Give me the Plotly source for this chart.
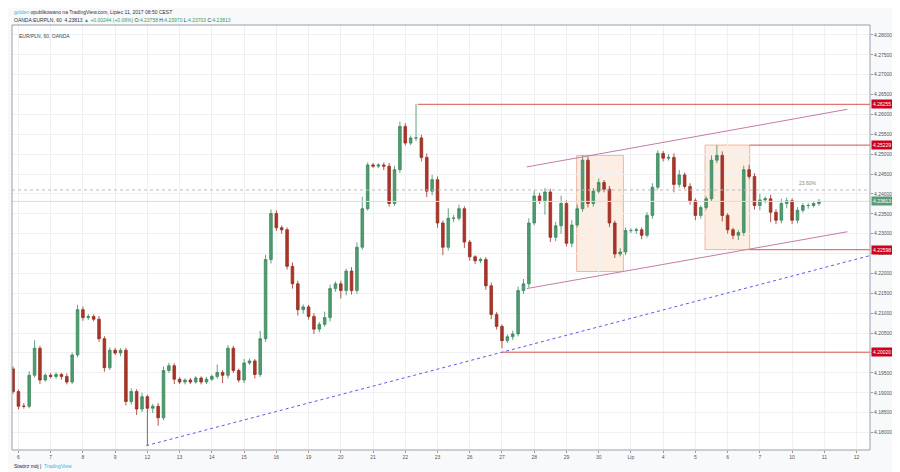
import plotly.graph_objects as go

# 4-hour bars, EUR/PLN (first bar is the tail of Jun 5)
closes = [
    4.1903,
    4.1866, 4.1866, 4.1944, 4.2012, 4.1932, 4.1944, 4.1941, 4.1946, 4.1941, 4.1927,
    4.1995, 4.2109, 4.2089, 4.2092, 4.2085, 4.2036, 4.1963, 4.2007, 4.2000, 4.2007,
    4.1878, 4.1903, 4.1859, 4.1890, 4.1861, 4.1866, 4.1837, 4.1956, 4.1968, 4.1934,
    4.1927, 4.1932, 4.1927, 4.1937, 4.1927, 4.1934, 4.1941, 4.1951, 4.1944, 4.2012,
    4.1956, 4.1932, 4.1975, 4.1980, 4.1946, 4.2036, 4.2235, 4.2351, 4.2315, 4.2310,
    4.2218, 4.2174, 4.2109, 4.2116, 4.2092, 4.2060, 4.2072, 4.2089, 4.2162, 4.2174,
    4.2157, 4.2206, 4.2157, 4.2266, 4.2363, 4.2473, 4.2470, 4.2473, 4.2470, 4.2376,
    4.2461, 4.2570, 4.2528, 4.2541, 4.2541, 4.2492, 4.2407, 4.2436, 4.2327, 4.2266,
    4.2339, 4.2339, 4.2363, 4.2279, 4.2242, 4.2232, 4.2235, 4.2169, 4.2097, 4.2067,
    4.2031, 4.2041, 4.2048, 4.2157, 4.2174, 4.2327, 4.2395, 4.2383, 4.2405, 4.2291,
    4.2320, 4.2376, 4.2276, 4.2322, 4.2363, 4.2485, 4.2376, 4.2407, 4.2429, 4.2412,
    4.2327, 4.2249, 4.2254, 4.2308, 4.2308, 4.2310, 4.2296, 4.2346, 4.2417, 4.2502,
    4.2490, 4.2492, 4.2424, 4.2448, 4.2419, 4.2383, 4.2346, 4.2366, 4.2388, 4.2485,
    4.2497, 4.2346, 4.2310, 4.2296, 4.2303, 4.2461, 4.2444, 4.2371, 4.2385, 4.2388,
    4.2354, 4.2334, 4.2376, 4.2383, 4.2334, 4.2359, 4.2371, 4.2371, 4.2376, 4.23813,
]
first_open = 4.1960

# wick lengths in pips beyond the body
wick_hi = [
    6,
    5, 8, 10, 20, 6, 5, 6, 5, 4, 8,
    6, 12, 8, 6, 5, 8, 6, 7, 6, 5,
    6, 8, 6, 10, 5, 6, 8, 10, 7, 6,
    5, 4, 5, 5, 4, 6, 5, 20, 6, 8,
    6, 5, 10, 6, 5, 20, 12, 10, 8, 6,
    6, 10, 8, 6, 5, 8, 6, 15, 10, 6,
    8, 6, 10, 12, 30, 6, 5, 4, 6, 8,
    10, 12, 8, 6, 85, 8, 10, 12, 8, 6,
    25, 8, 10, 6, 5, 4, 5, 6, 8, 6,
    5, 6, 8, 10, 12, 12, 14, 8, 10, 8,
    10, 20, 8, 12, 10, 12, 10, 8, 10, 6,
    8, 6, 10, 8, 6, 5, 6, 8, 10, 8,
    6, 8, 10, 12, 6, 8, 6, 5, 6, 12,
    26, 10, 6, 5, 6, 10, 12, 8, 15, 6,
    10, 8, 12, 8, 6, 8, 6, 6, 5, 6,
]
wick_lo = [
    6,
    8, 6, 5, 6, 10, 4, 5, 6, 8, 6,
    5, 6, 8, 6, 5, 8, 10, 6, 5, 8,
    10, 8, 15, 8, 94, 12, 20, 6, 6, 12,
    5, 6, 5, 4, 6, 5, 4, 6, 20, 8,
    6, 6, 8, 5, 10, 6, 8, 10, 8, 10,
    8, 12, 15, 10, 8, 12, 8, 6, 10, 8,
    20, 12, 10, 8, 6, 5, 4, 5, 10, 8,
    6, 8, 6, 5, 8, 10, 15, 10, 12, 20,
    8, 10, 6, 15, 10, 8, 6, 10, 12, 8,
    19, 6, 8, 6, 8, 10, 6, 8, 35, 12,
    10, 20, 8, 10, 6, 8, 10, 8, 6, 8,
    10, 10, 6, 8, 6, 8, 10, 6, 8, 6,
    8, 6, 20, 8, 6, 10, 12, 8, 6, 6,
    8, 15, 10, 10, 12, 8, 6, 10, 12, 8,
    25, 10, 8, 12, 10, 8, 6, 8, 5, 6,
]

day_labels = ["6", "7", "8", "9", "12", "13", "14", "15", "16", "19", "20", "21", "22",
              "23", "26", "27", "28", "29", "30", "Lip", "4", "5", "6", "7", "10", "11", "12"]
bars_per_day = 6

price_ticks = [4.18 + 0.005 * i for i in range(21)]
levels = [4.26255, 4.25229, 4.22598, 4.20020]
last_price = 4.23813

x = list(range(-1, len(closes) - 1))
opens = [first_open] + closes[:-1]
highs = [max(o, c) + w / 10000 for o, c, w in zip(opens, closes, wick_hi)]
lows = [min(o, c) - w / 10000 for o, c, w in zip(opens, closes, wick_lo)]

fig = go.Figure(go.Candlestick(
    x=x, open=opens, high=highs, low=lows, close=closes,
    increasing=dict(line=dict(color="#3e8a60", width=0.8), fillcolor="#4f9a70"),
    decreasing=dict(line=dict(color="#9c2f22", width=0.8), fillcolor="#a8352a"),
    whiskerwidth=0, showlegend=False, hoverinfo="skip",
))

XR = [-1.2, 158.5]
YR = [4.1756, 4.2825]
red = "#d9534f"
purple = "#c77aa8"
shapes = [
    dict(type="rect", x0=103.9, x1=112.6, y0=4.2205, y1=4.2497,
         fillcolor="rgba(245,200,160,0.3)", line=dict(color="#f0b5a0", width=1)),
    dict(type="rect", x0=127.8, x1=136.1, y0=4.2260, y1=4.2523,
         fillcolor="rgba(245,200,160,0.3)", line=dict(color="#f0b5a0", width=1)),
    dict(type="line", x0=94.6, x1=154.3, y0=4.2468, y1=4.2613, line=dict(color=purple, width=1)),
    dict(type="line", x0=94.6, x1=154.3, y0=4.2162, y1=4.2305, line=dict(color=purple, width=1)),
    dict(type="line", x0=23.8, x1=158.5, y0=4.1767, y1=4.2245,
         line=dict(color="#5a5af0", width=1, dash="dot")),
    dict(type="line", x0=XR[0], x1=XR[1], y0=4.2410, y1=4.2410,
         line=dict(color="#bbbbbb", width=1, dash="dot")),
    dict(type="line", x0=XR[0], x1=XR[1], y0=last_price, y1=last_price,
         line=dict(color="#cfe3d6", width=1)),
]
starts = [74.3, 136.1, 136.1, 90.0]
for lv, st in zip(levels, starts):
    shapes.append(dict(type="line", x0=st, x1=XR[1], y0=lv, y1=lv, line=dict(color=red, width=1)))
for s in shapes:
    s.update(xref="x", yref="y", layer="below" if s["type"] == "rect" else "above")
shapes.append(dict(type="rect", xref="paper", yref="paper", x0=0, x1=1, y0=0, y1=1,
                   line=dict(color="#9aa0a8", width=1)))

ann = []
for lv in levels:
    ann.append(dict(x=1.001, xref="paper", y=lv, yref="y", text=f"{lv:.5f}", showarrow=False,
                    xanchor="left", bgcolor="#d0021b", font=dict(color="white", size=5), borderpad=1))
ann.append(dict(x=1.001, xref="paper", y=last_price, yref="y", text=f"{last_price:.5f}", showarrow=False,
                xanchor="left", bgcolor="#5a9a76", font=dict(color="white", size=5), borderpad=1))
ann.append(dict(x=149, y=4.2416, text="23.60%", showarrow=False, font=dict(size=5, color="#888"),
                xanchor="right", yanchor="bottom"))
ann.append(dict(x=0.006, xref="paper", y=0.985, yref="paper", text="EUR/PLN, 60, OANDA",
                showarrow=False, xanchor="left", yanchor="top", font=dict(size=5, color="#444")))
ann.append(dict(x=0, xref="paper", y=1.0, yref="paper", yshift=8, xanchor="left", yanchor="bottom",
                showarrow=False, font=dict(size=5, color="#333"),
                text="<span style='color:#3bb3e4'>golden</span> opublikowano na TradingView.com, Lipiec 11, 2017 08:50 CEST"))
ann.append(dict(x=0, xref="paper", y=1.0, yref="paper", yshift=0, xanchor="left", yanchor="bottom",
                showarrow=False, font=dict(size=5, color="#333"),
                text="OANDA:EURPLN, 60  4.23813 <span style='color:#3c9a5a'>▲ +0.00244 (+0.06%)</span>"
                     " O:<span style='color:#3c9a5a'>4.23758</span> H:<span style='color:#3c9a5a'>4.23970</span>"
                     " L:<span style='color:#3c9a5a'>4.23703</span> C:<span style='color:#3c9a5a'>4.23813</span>"))
ann.append(dict(x=0, xref="paper", y=0, yref="paper", yshift=-11, xanchor="left", yanchor="top",
                showarrow=False, font=dict(size=5, color="#222"),
                text="Stwórz mój |  <span style='color:#3bb3e4'>TradingView</span>"))

fig.update_layout(
    width=900, height=472,
    margin=dict(l=4, r=38, t=17, b=30),
    paper_bgcolor="#f7f9fb", plot_bgcolor="white",
    font=dict(family="Liberation Sans, Arial", size=5, color="#555"),
    shapes=shapes, annotations=ann,
    xaxis=dict(range=XR, rangeslider=dict(visible=False), showgrid=True, gridcolor="#eef0f3",
               tickvals=[i * bars_per_day for i in range(len(day_labels))], ticktext=day_labels,
               ticks="outside", ticklen=2, tickcolor="#999", zeroline=False, fixedrange=True),
    yaxis=dict(range=YR, side="right", tickvals=price_ticks, tickformat=".5f",
               showgrid=True, gridcolor="#eef0f3", ticks="outside", ticklen=2, tickcolor="#999",
               zeroline=False, automargin=False),
)

fig.write_html("out.html")
